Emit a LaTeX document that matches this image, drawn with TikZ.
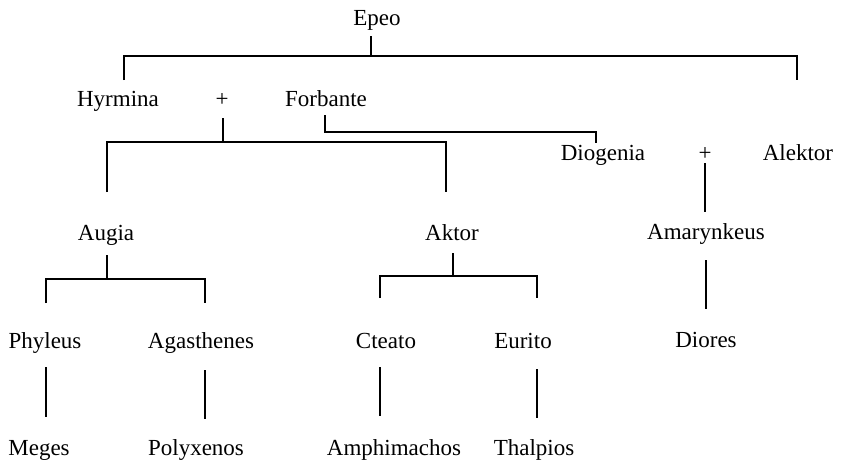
\documentclass[tikz,border=0pt]{standalone}
\usepackage{fontspec}
\setmainfont{Liberation Serif}
\begin{document}
\begin{tikzpicture}[x=1pt,y=-1pt,
    person/.style={anchor=base, inner sep=0pt, font=\fontsize{23}{27}\selectfont},
    link/.style={line width=1.1pt}]
\useasboundingbox (0,0) rectangle (845,466);

% Nodes
\node[person] (epeo) at (377,25) {Epeo};
\node[person] (hyrmina) at (118,106) {Hyrmina};
\node[person] (plusA) at (222,106) {+};
\node[person] (forbante) at (326,106) {Forbante};
\node[person] (diogenia) at (603,160) {Diogenia};
\node[person] (plusB) at (705,160) {+};
\node[person] (alektor) at (798,160) {Alektor};
\node[person] (augia) at (106,240) {Augia};
\node[person] (aktor) at (452,240) {Aktor};
\node[person] (amarynkeus) at (706,239) {Amarynkeus};
\node[person] (phyleus) at (45,348) {Phyleus};
\node[person] (agasthenes) at (201,348) {Agasthenes};
\node[person] (cteato) at (386,348) {Cteato};
\node[person] (eurito) at (523,348) {Eurito};
\node[person] (diores) at (706,347) {Diores};
\node[person] (meges) at (39,455) {Meges};
\node[person] (polyxenos) at (196,455) {Polyxenos};
\node[person] (amphimachos) at (394,455) {Amphimachos};
\node[person] (thalpios) at (534,455) {Thalpios};

% Bars
\coordinate (epeoBar) at (371,56);
\coordinate (hyrminaDrop) at (124,80);
\coordinate (alektorDrop) at (797,80);
\coordinate (coupleBar) at (223,142);
\coordinate (augiaDrop) at (107,192);
\coordinate (aktorDrop) at (446,192);
\coordinate (forbanteBend) at (325,132);
\coordinate (diogeniaTop) at (596,143);
\coordinate (augiaBar) at (107,279);
\coordinate (phyleusDrop) at (46,303);
\coordinate (agasthenesDrop) at (205,303);
\coordinate (aktorBar) at (453,276);
\coordinate (cteatoDrop) at (380,298);
\coordinate (euritoDrop) at (537,298);

% Lines
\draw[link] (epeo.base -| epeoBar) ++(0,11) -- (epeoBar);
\draw[link] (hyrminaDrop) |- (epeoBar) -| (alektorDrop);
\draw[link] (plusA.base -| coupleBar) ++(0,12) -- (coupleBar);
\draw[link] (augiaDrop) |- (coupleBar) -| (aktorDrop);
\draw[link] (forbante.base -| forbanteBend) ++(0,9) -- (forbanteBend) -| (diogeniaTop);
\draw[link] ([yshift=-3pt]plusB.base) -- ([yshift=27pt]amarynkeus.base -| plusB);
\draw[link] (augia.base -| augiaBar) ++(0,15) -- (augiaBar);
\draw[link] (phyleusDrop) |- (augiaBar) -| (agasthenesDrop);
\draw[link] (aktor.base -| aktorBar) ++(0,13) -- (aktorBar);
\draw[link] (cteatoDrop) |- (aktorBar) -| (euritoDrop);
\draw[link] ([yshift=-21pt]amarynkeus.base) -- ([yshift=38pt]diores.base);
\draw[link] ([yshift=-19pt]phyleus.base -| phyleusDrop) -- ([yshift=38pt]meges.base -| phyleusDrop);
\draw[link] ([yshift=-22pt]agasthenes.base -| agasthenesDrop) -- ([yshift=36pt]polyxenos.base -| agasthenesDrop);
\draw[link] ([yshift=-19pt]cteato.base -| cteatoDrop) -- ([yshift=39pt]amphimachos.base -| cteatoDrop);
\draw[link] ([yshift=-21pt]eurito.base -| euritoDrop) -- ([yshift=37pt]thalpios.base -| euritoDrop);
\end{tikzpicture}
\end{document}
